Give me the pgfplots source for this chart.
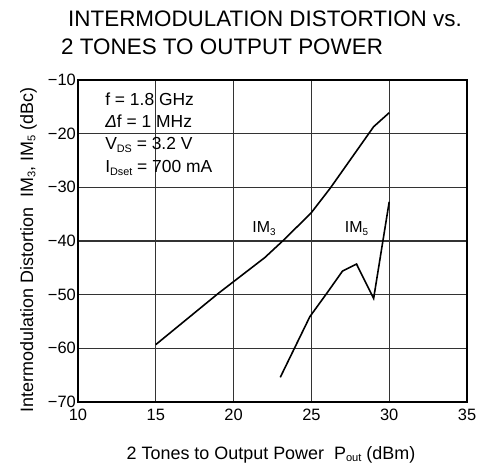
\documentclass[border=0pt]{standalone}
\usepackage{fontspec}
\setmainfont{Liberation Sans}
\usepackage{graphicx}
\usepackage{pgfplots}
\pgfplotsset{compat=1.18}
\newcommand\sub[1]{\raisebox{-0.25ex}{\scalebox{0.62}{#1}}}
\begin{document}
\begin{tikzpicture}
\path[use as bounding box] (0,0) rectangle (477bp,466bp);
\begin{axis}[
  at={(78bp,64bp)}, anchor=south west,
  scale only axis, width=389bp, height=322bp,
  xmin=10, xmax=35, ymin=-70, ymax=-10,
  xtick={10,15,...,35},
  ytick={-70,-60,...,-10},
  yticklabels={−70,−60,−50,−40,−30,−20,−10},
  grid=major,
  major grid style={line width=1.1pt, color=black!80},
  axis line style={line width=1.8pt},
  major tick length=0pt,
  yticklabel style={font=\fontsize{16.5}{19}\selectfont, inner xsep=2bp},
  xticklabel style={font=\fontsize{16.5}{19}\selectfont, yshift=-4bp},
  /pgf/number format/assume math mode=true,
  clip=false,
]
\addplot[black, line width=1.6pt] coordinates {
(15,-59.3) (19,-49.8) (22,-43.1) (23.3,-39.6) (25,-34.7) (26.2,-30.2) (29,-18.7) (30,-16.1)
};
\addplot[black, line width=1.6pt] coordinates {
(23,-65.4) (24.9,-54.1) (26,-49.7) (27,-45.6) (27.9,-44.3) (29,-50.7) (30,-32.7)
};
\node[anchor=base, font=\fontsize{16}{19}\selectfont] at (axis cs:21.95,-38.5) {IM\sub{3}};
\node[anchor=base, font=\fontsize{16}{19}\selectfont] at (axis cs:27.9,-38.5) {IM\sub{5}};
\node[anchor=base west, font=\fontsize{17.5}{20}\selectfont, inner sep=0pt] at (axis cs:11.74,-14.66) {f = 1.8 GHz};
\node[anchor=base west, font=\fontsize{17.5}{20}\selectfont, inner sep=0pt] at (axis cs:11.74,-18.8) {{\itshape Δ}f = 1 MHz};
\node[anchor=base west, font=\fontsize{17.5}{20}\selectfont, inner sep=0pt] at (axis cs:11.74,-23.0) {V\sub{DS} = 3.2 V};
\node[anchor=base west, font=\fontsize{17.5}{20}\selectfont, inner sep=0pt] at (axis cs:11.74,-27.3) {I\sub{Dset} = 700 mA};
\end{axis}
\node[anchor=base west, inner sep=0pt, font=\fontsize{22.5}{27}\selectfont] at (68bp,439bp) {INTERMODULATION DISTORTION vs.};
\node[anchor=base west, inner sep=0pt, font=\fontsize{22.5}{27}\selectfont] at (61bp,411bp) {2 TONES TO OUTPUT POWER};
\node[anchor=base, inner sep=0pt, font=\fontsize{18}{20}\selectfont] at (271bp,7bp) {2 Tones to Output Power\ \ P\sub{out} (dBm)};
\node[anchor=base, rotate=90, inner sep=0pt, font=\fontsize{18}{20}\selectfont] at (33bp,216bp) {Intermodulation Distortion\ \ IM\sub{3}, IM\sub{5} (dBc)};
\end{tikzpicture}
\end{document}
